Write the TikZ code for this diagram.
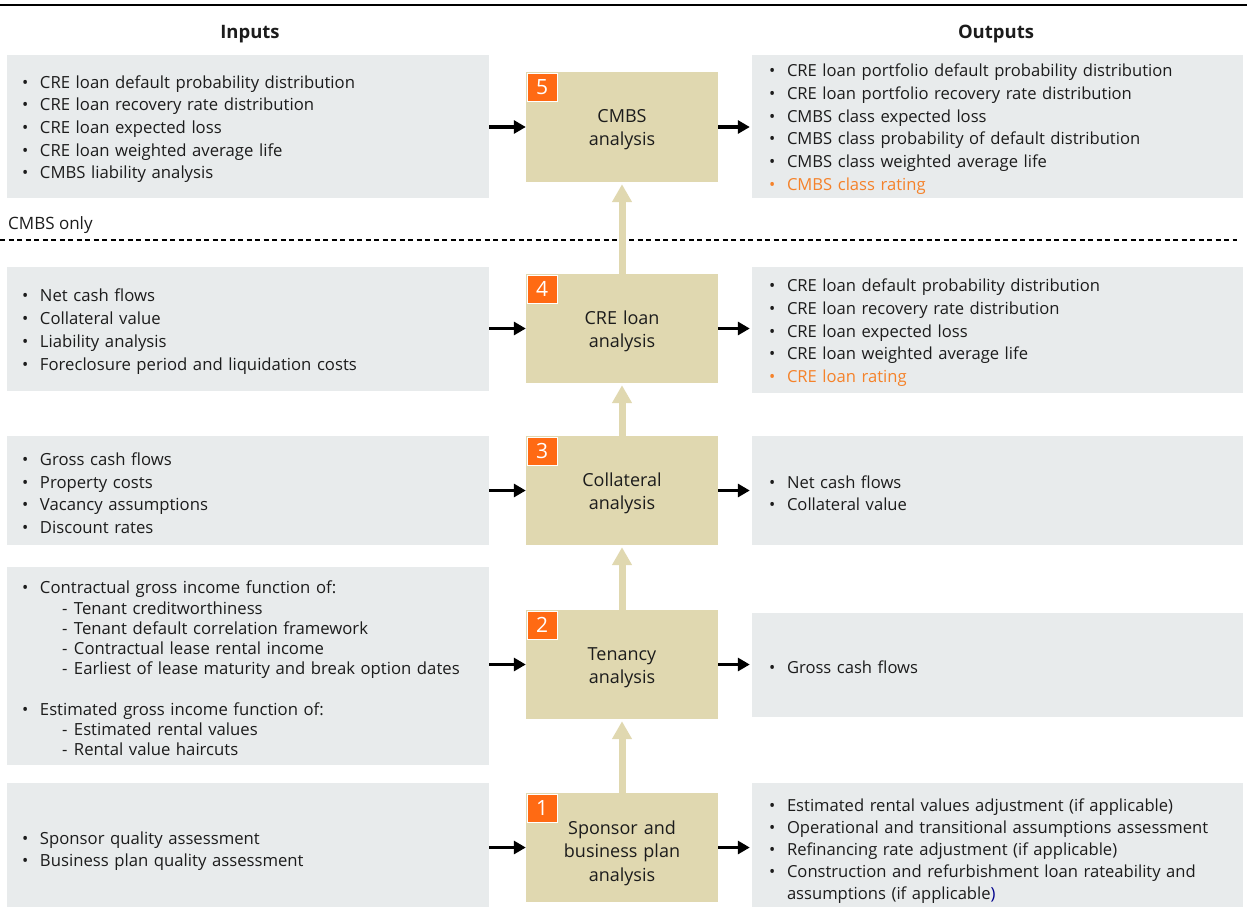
\documentclass[tikz,border=0pt]{standalone}
\usepackage{fontspec}
\setmainfont{Open Sans}
\usepackage{xcolor}
\usetikzlibrary{arrows.meta}

\definecolor{boxgray}{HTML}{E8EBEC}
\definecolor{stagetan}{HTML}{E0D8B0}
\definecolor{badgeorange}{HTML}{FF6A13}
\definecolor{ratingorange}{HTML}{F5822A}
\definecolor{txtdark}{HTML}{1C1C1C}

\newcommand{\bul}[1]{\makebox[18pt][l]{\textbullet}#1}
\newcommand{\subit}[1]{\hspace*{40pt}\makebox[12pt][l]{-}#1}

\tikzset{
  % first line strut: a taller first line pushes the block down
  drop/.style={execute at begin node={\leavevmode\vrule width 0pt height #1\relax}},
  inbox/.style={fill=boxgray, text=txtdark, minimum width=482pt, text width=452pt,
    inner xsep=15pt, inner ysep=0pt, align=left, drop=18pt,
    font=\fontsize{16.7}{22.7}\selectfont},
  outbox/.style={fill=boxgray, text=txtdark, minimum width=491pt, text width=457pt,
    inner xsep=17pt, inner ysep=0pt, align=left, drop=18pt,
    font=\fontsize{16.6}{22.7}\selectfont},
  stage/.style={fill=stagetan, text=txtdark, minimum width=192pt, minimum height=109pt,
    text width=186pt, inner xsep=3pt, inner ysep=0pt, align=center, drop=19pt,
    font=\fontsize{18}{23.2}\selectfont},
  badge/.style={fill=badgeorange, draw=white, line width=0.8pt, text=white,
    minimum width=30pt, minimum height=28pt, inner sep=0pt, anchor=north west,
    font=\fontsize{21}{21}\selectfont},
  heading/.style={text=txtdark, font=\fontsize{18.5}{22}\selectfont\bfseries},
  feed/.style={black, line width=3.8pt, -{Triangle[length=12pt,width=13pt]}},
  lift/.style={stagetan, line width=7pt, -{Triangle[length=18pt,width=19pt]}, shorten >=2pt}
}

\begin{document}
\begin{tikzpicture}[x=1pt,y=-1pt]
  \useasboundingbox (0,0) rectangle (1247,908);
  \draw[black, line width=2.5pt] (0,5)--(1247,5);

    %Headings
    \node[heading] (inhead) at (250,34) {Inputs};
    \node[heading] (outhead) at (996,34) {Outputs};

    %Stage 5
    \node[inbox, minimum height=143pt] (in5) at (248,126.5) {\bul{CRE loan default probability distribution}\\
      \bul{CRE loan recovery rate distribution}\\ \bul{CRE loan expected loss}\\
      \bul{CRE loan weighted average life}\\ \bul{CMBS liability analysis}};
    \node[stage, minimum height=110pt] (c5) at (622,127) {CMBS\\analysis};
    \node[outbox, minimum height=143pt] (out5) at (997.5,126.5) {\bul{CRE loan portfolio default probability distribution}\\
      \bul{CRE loan portfolio recovery rate distribution}\\ \bul{CMBS class expected loss}\\
      \bul{CMBS class probability of default distribution}\\ \bul{CMBS class weighted average life}\\
      {\color{ratingorange}\bul{CMBS class rating}}};

    %CMBS only divider
    \node[anchor=west, inner sep=0pt, text=txtdark, font=\fontsize{17}{20}\selectfont] (cmbsonly) at (8,225) {CMBS only};
    \draw[black, line width=1.1pt, dash pattern=on 5pt off 3.5pt] (0,240)--(1237,240);

    %Stage 4
    \node[inbox, minimum height=124pt] (in4) at (248,329) {\bul{Net cash flows}\\ \bul{Collateral value}\\
      \bul{Liability analysis}\\ \bul{Foreclosure period and liquidation costs}};
    \node[stage] (c4) at (622,328.5) {CRE loan\\analysis};
    \node[outbox, minimum height=126pt] (out4) at (997.5,330) {\bul{CRE loan default probability distribution}\\
      \bul{CRE loan recovery rate distribution}\\ \bul{CRE loan expected loss}\\
      \bul{CRE loan weighted average life}\\ {\color{ratingorange}\bul{CRE loan rating}}};

    %Stage 3
    \node[inbox, minimum height=109pt, drop=14pt] (in3) at (248,490.5) {\bul{Gross cash flows}\\ \bul{Property costs}\\
      \bul{Vacancy assumptions}\\ \bul{Discount rates}};
    \node[stage] (c3) at (622,490.5) {Collateral\\analysis};
    \node[outbox, minimum height=109pt, drop=14pt] (out3) at (997.5,490.5) {\bul{Net cash flows}\\ \bul{Collateral value}};

    %Stage 2
    \node[inbox, minimum height=198pt, font=\fontsize{16.7}{20.25}\selectfont, drop=10pt] (in2) at (248,666) {\bul{Contractual gross income function of:}\\
      \subit{Tenant creditworthiness}\\ \subit{Tenant default correlation framework}\\
      \subit{Contractual lease rental income}\\ \subit{Earliest of lease maturity and break option dates}\\[20.25pt]
      \bul{Estimated gross income function of:}\\ \subit{Estimated rental values}\\ \subit{Rental value haircuts}};
    \node[stage] (c2) at (622,664.5) {Tenancy\\analysis};
    \node[outbox, minimum height=104pt, drop=14pt] (out2) at (997.5,665) {\bul{Gross cash flows}};

    %Stage 1
    \node[inbox, minimum height=124pt, drop=25pt] (in1) at (248,845) {\bul{Sponsor quality assessment}\\
      \bul{Business plan quality assessment}};
    \node[stage, drop=25pt] (c1) at (622,847.5) {Sponsor and\\business plan\\analysis};
    \node[outbox, minimum height=124pt, font=\fontsize{16.6}{22.2}\selectfont, drop=25pt] (out1) at (997.5,845) {\bul{Estimated rental values adjustment (if applicable)}\\
      \bul{Operational and transitional assumptions assessment}\\ \bul{Refinancing rate adjustment (if applicable)}\\
      \bul{Construction and refurbishment loan rateability and}\\
      \hspace*{18pt}assumptions (if applicable{\color{blue!55!black})}};

    %Badges and arrows
    \foreach \i in {1,...,5}{
      \node[badge] (b\i) at ([xshift=1pt,yshift=-1pt]c\i.north west) {\i};
      \draw[feed] (in\i.east |- c\i) -- (c\i.west);
      \draw[feed, shorten >=2pt] (c\i.east) -- (out\i.west |- c\i);
    }
    \foreach \i [evaluate=\i as \j using int(\i+1)] in {1,...,4}
      \draw[lift] (c\i.north) -- (c\j.south);

  \end{tikzpicture}
\end{document}
